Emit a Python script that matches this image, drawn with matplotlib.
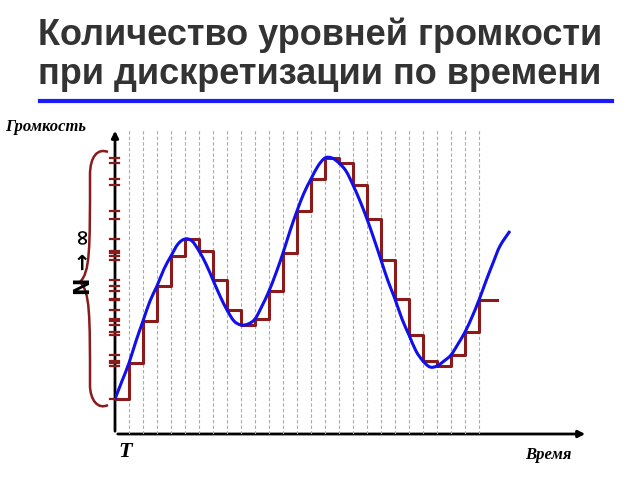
import matplotlib
matplotlib.use("Agg")
import matplotlib.pyplot as plt
from matplotlib.path import Path
from matplotlib.patches import PathPatch, FancyArrowPatch

# sample-and-hold levels (height above time axis, px units) at each sample k
levels = [35, 71, 113, 148, 178, 195, 183, 154, 124, 109, 115, 143, 181, 223, 255, 276,
          271, 249, 215, 174, 135, 99, 73, 68, 79, 102, 134]
# continuous signal, read every half step (x in sample units)
curve_x = [i * 0.5 for i in range(56)] + [28.21]
curve_y = [35, 53, 71, 93, 113, 133, 148, 165, 178, 190, 195, 193, 183, 170, 154, 138,
           124, 113, 109, 110, 115, 128, 143, 161, 181, 203, 223, 241, 255, 268, 276, 276,
           271, 263, 249, 233, 215, 195, 174, 153, 135, 115, 99, 83, 73, 67, 68, 73,
           79, 90, 102, 117, 134, 153, 171, 188, 203]

W, H = 640, 480
fig = plt.figure(figsize=(6.4, 4.8), dpi=100)
bg = fig.add_axes([0, 0, 1, 1])
bg.set_xlim(0, W); bg.set_ylim(H, 0); bg.axis("off")

tc = "#333333"
bg.text(320, 35, "Количество уровней громкости", ha="center", va="center",
        fontsize=26, fontweight="bold", color=tc, family="Liberation Sans")
bg.text(320, 75, "при дискретизации по времени", ha="center", va="center",
        fontsize=26, fontweight="bold", color=tc, family="Liberation Sans")
bg.plot([40, 612], [101, 101], color="#1a1aff", lw=3)

bg.text(5, 127, "Громкость", ha="left", va="center", fontsize=12, fontweight="bold",
        style="italic", family="Liberation Serif")
bg.text(125, 452, "T", ha="center", va="center", fontsize=16, fontweight="bold",
        style="italic", family="Liberation Serif")
bg.text(548, 455, "Время", ha="center", va="center", fontsize=12, fontweight="bold",
        style="italic", family="Liberation Serif")

# brace
bc = "#8b1a1a"
verts = [(108, 152), (98, 148), (90, 156), (90, 175),
         (90, 250), (90, 272), (80, 282),
         (90, 292), (90, 314), (90, 385),
         (90, 400), (98, 410), (108, 405)]
codes = [Path.MOVETO] + [Path.CURVE4] * 12
bg.add_patch(PathPatch(Path(verts, codes), fill=False, ec=bc, lw=1.8))
bg.text(84, 262, "N → ∞", ha="center", va="center", rotation=90, fontsize=15,
        fontweight="bold", color="black", family="DejaVu Sans")

# axes arrows
bg.add_patch(FancyArrowPatch((115, 434), (588, 434), arrowstyle="-|>", mutation_scale=10,
                             color="black", lw=2))
bg.add_patch(FancyArrowPatch((115, 434), (115, 128), arrowstyle="-|>", mutation_scale=10,
                             color="black", lw=2))

step = 14.0
ax = fig.add_axes([115 / W, (H - 434) / H, 470 / W, 306 / H])
ax.set_xlim(0, 470 / step); ax.set_ylim(0, 306)
ax.axis("off"); ax.patch.set_alpha(0)

for k in range(1, 27):
    ax.axvline(k, ymin=0, ymax=(434 - 130) / 306, color="#aaaaaa", lw=0.8, ls=(0, (3, 2)))

xs = list(range(len(levels))) + [len(levels) - 1 + 1.3]
ax.step(xs, levels + [levels[-1]], where="post", color=bc, lw=2.2, zorder=3)

# smooth rendering of the curve through the read points (Catmull-Rom -> Bezier)
pts = list(zip(curve_x, curve_y))
v = [pts[0]]; c = [Path.MOVETO]
n = len(pts)
for i in range(n - 1):
    p0 = pts[max(i - 1, 0)]; p1 = pts[i]; p2 = pts[i + 1]; p3 = pts[min(i + 2, n - 1)]
    c1 = (p1[0] + (p2[0] - p0[0]) / 6, p1[1] + (p2[1] - p0[1]) / 6)
    c2 = (p2[0] - (p3[0] - p1[0]) / 6, p2[1] - (p3[1] - p1[1]) / 6)
    v += [c1, c2, p2]; c += [Path.CURVE4] * 3
ax.add_patch(PathPatch(Path(v, c), fill=False, ec="#1010ee", lw=2.2, zorder=4))

for val in levels:
    ax.plot([-0.35, 0.25], [val, val], color=bc, lw=1.6, clip_on=False)

fig.savefig("out.png", dpi=100)
